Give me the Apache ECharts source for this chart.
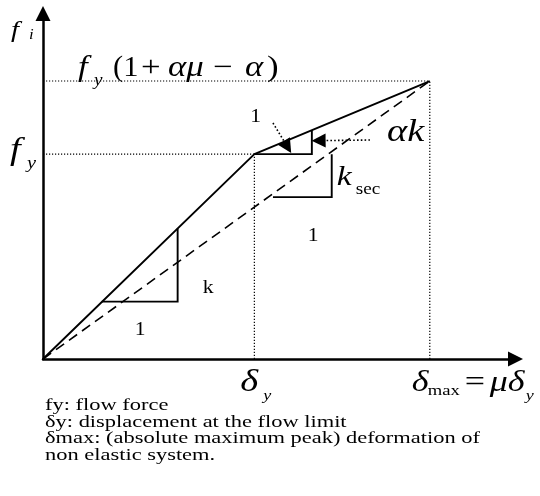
<!DOCTYPE html>
<html>
<head>
<meta charset="utf-8">
<script src="https://cdn.jsdelivr.net/npm/echarts@6/dist/echarts.min.js"></script>
<style>
  html, body { margin: 0; padding: 0; background: #fff; }
  #chart { width: 540px; height: 496px; }
</style>
</head>
<body>
<div id="chart"></div>
<script>
// Bilinear force–displacement idealisation, in units of δ/δy and f/fy
const displacement = [0, 1.0, 1.83];   // 0, δy, δmax = μδy
const force = [0, 1.0, 1.357];         // 0, fy, fy(1+αμ−α)
const axisMax = [2.2, 1.65];           // x, y extent of the axes

// slope markers drawn on the branches
const elasticTriangle = [[0.278, 0.28], [0.637, 0.28], [0.637, 0.637]];
const hardeningTriangle = [[1.0, 1.0], [1.272, 1.0], [1.272, 1.117]];
const secantTriangle = [[1.088, 0.79], [1.366, 0.79], [1.366, 1.0]];

// dotted pointer arrows (start, arrow head)
const pointerToUnit = [[1.088, 1.152], [1.157, 1.035]];
const pointerToAlphaK = [[1.547, 1.069], [1.304, 1.066]];

const notes = [
  'fy: flow force',
  'δy: displacement at the flow limit',
  'δmax: (absolute maximum peak) deformation of',
  'non elastic system.'
];

const bilinear = displacement.map((d, i) => [d, force[i]]);
const secant = [[displacement[0], force[0]], [displacement[2], force[2]]];
const guides = [
  [[0, force[2]], [displacement[2], force[2]]],
  [[0, force[1]], [displacement[1], force[1]]],
  [[displacement[1], 0], [displacement[1], force[1]]],
  [[displacement[2], 0], [displacement[2], force[2]]]
];

const chart = echarts.init(document.getElementById('chart'), null, { renderer: 'canvas' });

const axisCommon = {
  type: 'value',
  min: 0,
  axisLine: {
    show: true,
    onZero: false,
    symbol: ['none', 'triangle'],
    symbolSize: [15, 15],
    symbolOffset: [0, 7.5],
    lineStyle: { color: '#000', width: 2.5 }
  },
  axisTick: { show: false },
  axisLabel: { show: false },
  splitLine: { show: false }
};

chart.setOption({
  animation: false,
  backgroundColor: '#fff',
  grid: { left: 43, right: 32, top: 21, bottom: 137, outerBoundsMode: 'none' },
  xAxis: Object.assign({}, axisCommon, { max: axisMax[0] }),
  yAxis: Object.assign({}, axisCommon, { max: axisMax[1] }),
  series: [
    {
      type: 'line', data: bilinear, symbol: 'none', silent: true,
      lineStyle: { color: '#000', width: 1.9 }
    },
    {
      type: 'line', data: secant, symbol: 'none', silent: true,
      lineStyle: { color: '#000', width: 1.6, type: [10, 6] }
    },
    {
      type: 'lines', coordinateSystem: 'cartesian2d', polyline: true, silent: true,
      data: guides.map(c => ({ coords: c })),
      lineStyle: { color: '#000', width: 1.2, type: [1.2, 1.8], opacity: 1 }
    },
    {
      type: 'lines', coordinateSystem: 'cartesian2d', polyline: true, silent: true,
      data: [elasticTriangle, hardeningTriangle, secantTriangle].map(c => ({ coords: c })),
      lineStyle: { color: '#000', width: 1.9, opacity: 1 }
    },
    {
      type: 'lines', coordinateSystem: 'cartesian2d', silent: true,
      symbol: ['none', 'triangle'], symbolSize: 14,
      data: [pointerToUnit, pointerToAlphaK].map(c => ({ coords: c })),
      lineStyle: { color: '#000', width: 1.6, type: [1.6, 2.2], opacity: 1, curveness: 0 }
    }
  ]
});

// ---- text labels ----
const px = (x, y) => chart.convertToPixel({ gridIndex: 0 }, [x, y]);

function txt(str, x, baseline, size, italic, sx) {
  return {
    type: 'text', x: x, y: baseline - 0.34 * size, scaleX: sx || 1.2, silent: true,
    style: {
      text: str, fill: '#000',
      fontFamily: 'Liberation Serif',
      fontSize: size,
      fontStyle: italic ? 'italic' : 'normal',
      align: 'left', verticalAlign: 'middle',
      textAlign: 'left', textVerticalAlign: 'middle'
    }
  };
}

const axisTopPt = px(0, axisMax[1]);
const yieldPt = px(displacement[1], force[1]);
const peakLvl = px(0, force[2]);
const fyLvl = px(0, force[1]);
const dyFoot = px(displacement[1], 0);
const dmFoot = px(displacement[2], 0);
const secCorner = px(secantTriangle[1][0], secantTriangle[1][1]);
const elCorner = px(elasticTriangle[1][0], elasticTriangle[1][1]);
const akStart = px(pointerToAlphaK[0][0], pointerToAlphaK[0][1]);

const texts = [
  // f_i on the vertical axis
  txt('f', axisTopPt[0] - 32, axisTopPt[1] + 18, 24, true),
  txt('i', axisTopPt[0] - 14, axisTopPt[1] + 19, 14, true),
  // f_y on the vertical axis
  txt('f', fyLvl[0] - 33, fyLvl[1] + 7, 32, true),
  txt('y', fyLvl[0] - 16, fyLvl[1] + 15, 17, true),
  // f_y(1 + αμ − α)
  txt('f', peakLvl[0] + 35, peakLvl[1] - 3, 29, true),
  txt('y', peakLvl[0] + 51, peakLvl[1] + 5, 16, true),
  txt('(1', peakLvl[0] + 70, peakLvl[1] - 3, 29, false, 1.05),
  txt('+', peakLvl[0] + 98, peakLvl[1] - 3, 29, false),
  txt('αμ', peakLvl[0] + 125, peakLvl[1] - 3, 29, true),
  txt('−', peakLvl[0] + 170, peakLvl[1] - 3, 29, false),
  txt('α', peakLvl[0] + 202, peakLvl[1] - 3, 29, true),
  txt(')', peakLvl[0] + 224, peakLvl[1] - 3, 29, false),
  // hardening slope marker
  txt('1', yieldPt[0] - 4, yieldPt[1] - 31, 18, false),
  txt('αk', akStart[0] + 17, akStart[1] + 3, 32, true),
  // secant slope marker
  txt('k', secCorner[0] + 5, secCorner[1] - 10, 28, true),
  txt('sec', secCorner[0] + 24, secCorner[1] - 2, 16, false),
  txt('1', secCorner[0] - 24, secCorner[1] + 45, 18, false),
  // elastic slope marker
  txt('k', elCorner[0] + 25, elCorner[1] - 7, 18, false),
  txt('1', elCorner[0] - 43, elCorner[1] + 35, 18, false),
  // δ_y
  txt('δ', dyFoot[0] - 14, dyFoot[1] + 34, 32, true),
  txt('y', dyFoot[0] + 9, dyFoot[1] + 42, 15, true),
  // δmax = μδ_y
  txt('δ', dmFoot[0] - 18, dmFoot[1] + 34, 30, true),
  txt('max', dmFoot[0] - 2, dmFoot[1] + 37, 15.5, false),
  txt('=', dmFoot[0] + 35, dmFoot[1] + 34, 30, false),
  txt('μδ', dmFoot[0] + 60, dmFoot[1] + 34, 30, true),
  txt('y', dmFoot[0] + 96, dmFoot[1] + 42, 15, true)
];

const noteBaselines = [411, 428, 444.5, 461];
notes.forEach((line, i) => texts.push(txt(line, 45, noteBaselines[i], 17, false, 1.32)));

chart.setOption({ graphic: { elements: texts } });
</script>
</body>
</html>
